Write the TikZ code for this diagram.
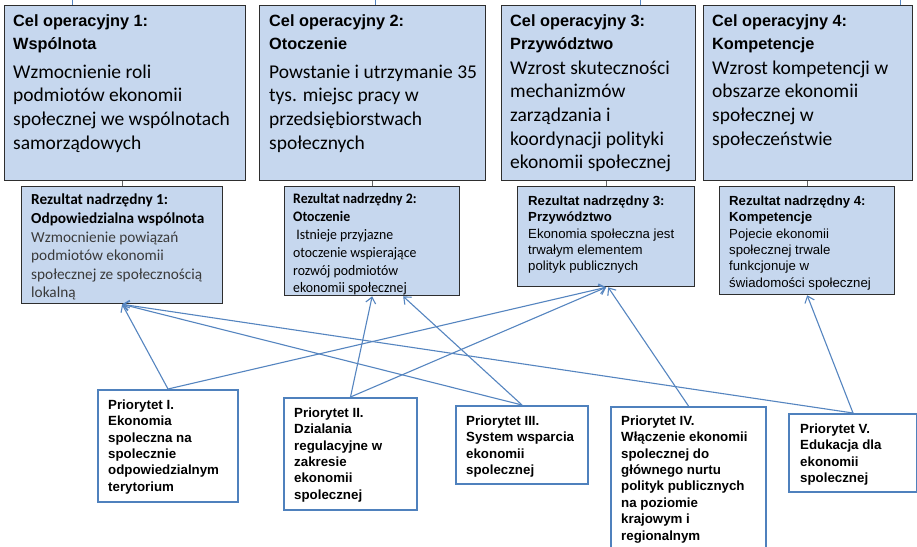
\documentclass[tikz,border=0pt]{standalone}
\usepackage{fontspec}
\setmainfont{Carlito}
\newfontfamily\arialf{Liberation Sans}
\newfontfamily\carlnarrow[FakeStretch=0.95]{Carlito}
\usetikzlibrary{arrows.meta,positioning,calc}
\definecolor{boxfill}{HTML}{C6D7EE}
\definecolor{boxline}{HTML}{2E2E2E}
\definecolor{pline}{HTML}{4F81BD}
\definecolor{arrowc}{HTML}{5585C0}
\definecolor{bodygray}{HTML}{3A3A3A}
\tikzset{
  topbox/.style={draw=boxline, line width=1.3pt, fill=boxfill, rectangle, inner sep=0pt, anchor=north west},
  resbox/.style={draw=boxline, line width=1.3pt, fill=boxfill, rectangle, inner sep=0pt, anchor=north west},
  priobox/.style={draw=pline, line width=2pt, fill=white, rectangle, inner sep=0pt, anchor=north west},
  txtbase/.style={inner sep=0pt, anchor=north west, align=left, execute at begin node=\strut},
  headtxt/.style={txtbase, yshift=16.1pt, font=\arialf\bfseries\fontsize{16.3}{23}\selectfont},
  bodytxt/.style={txtbase, yshift=16.6pt, font=\fontsize{19.5}{23.7}\selectfont},
  rtxtC/.style={txtbase, yshift=13pt, font=\fontsize{15.3}{18.6}\selectfont},
  rtxtN/.style={txtbase, yshift=12.5pt, font=\carlnarrow\fontsize{14.5}{17.8}\selectfont},
  rtxtA/.style={txtbase, yshift=11.5pt, font=\arialf\fontsize{13.2}{16.4}\selectfont},
  ptxt/.style={txtbase, yshift=11.5pt, font=\arialf\bfseries\fontsize{13.3}{16.4}\selectfont},
  vlink/.style={draw=gray!80!black, line width=0.8pt},
  toplink/.style={draw=arrowc, line width=0.8pt},
  arr/.style={draw=arrowc, line width=1.1pt, -{Straight Barb[length=6pt,width=10pt,line width=1.1pt]}},
}
\begin{document}
\begin{tikzpicture}[x=1pt,y=-1pt]
\useasboundingbox (0,0) rectangle (917,546);
\clip (0,0) rectangle (917,546);
\fill[white] (0,0) rectangle (917,546);

% top boxes
\node[topbox, minimum width=241pt, minimum height=175pt] (t1) at (4,5) {};
\node[topbox, minimum width=226pt, minimum height=175pt] (t2) at (259,5) {};
\node[topbox, minimum width=194pt, minimum height=175pt] (t3) at (501,5) {};
\node[topbox, minimum width=209pt, minimum height=175pt] (t4) at (703,5) {};

\node[headtxt] (t1h) at (13,31) {Cel operacyjny 1:\\Wspólnota};
\node[bodytxt] (t1b) at (13,81) {Wzmocnienie roli\\podmiotów ekonomii\\społecznej we wspólnotach\\samorządowych};
\node[headtxt] (t2h) at (269,31) {Cel operacyjny 2:\\Otoczenie};
\node[bodytxt] (t2b) at (269,81) {Powstanie i utrzymanie 35\\tys. miejsc pracy w\\przedsiębiorstwach\\społecznych};
\node[headtxt] (t3h) at (510,31) {Cel operacyjny 3:\\Przywództwo};
\node[bodytxt] (t3b) at (510,77) {Wzrost skuteczności\\mechanizmów\\zarządzania i\\koordynacji polityki\\ekonomii społecznej};
\node[headtxt] (t4h) at (712,31) {Cel operacyjny 4:\\Kompetencje};
\node[bodytxt] (t4b) at (712,77) {Wzrost kompetencji w\\obszarze ekonomii\\społecznej w\\społeczeństwie};

% small connector ends at the top edge
\coordinate (c1) at (72,0);
\coordinate (c2) at (375,0);
\coordinate (c3) at (640,0);
\coordinate (c4) at (900,0);
\draw[toplink] (c1) -- (c1 |- t1.north);
\draw[toplink] (c2) -- (c2 |- t2.north);
\draw[toplink] (c3) -- (c3 |- t3.north);
\draw[toplink] (c4) -- (c4 |- t4.north);

% result boxes
\node[resbox, minimum width=201pt, minimum height=117pt] (r1) at (21,186) {};
\node[resbox, minimum width=175pt, minimum height=109pt] (r2) at (284,186) {};
\node[resbox, minimum width=177pt, minimum height=100pt] (r3) at (517,186) {};
\node[resbox, minimum width=175pt, minimum height=108pt] (r4) at (719,186) {};

\draw[vlink] (r1.north |- t1.south) -- (r1.north);
\draw[vlink] (r2.north |- t2.south) -- (r2.north);
\draw[vlink] (r3.north |- t3.south) -- (r3.north);
\draw[vlink] (r4.north |- t4.south) -- (r4.north);

\node[rtxtC] (r1t) at (31,207) {\textbf{Rezultat nadrzędny 1:}\\\textbf{Odpowiedzialna wspólnota}\\\textcolor{bodygray}{Wzmocnienie powiązań}\\\textcolor{bodygray}{podmiotów ekonomii}\\\textcolor{bodygray}{społecznej ze społecznością}\\\textcolor{bodygray}{lokalną}};
\node[rtxtN] (r2t) at (293,206) {\textbf{Rezultat nadrzędny 2:}\\\textbf{Otoczenie}\\\ Istnieje przyjazne\\otoczenie wspierające\\rozwój podmiotów\\ekonomii społecznej};
\node[rtxtA] (r3t) at (528,207) {\textbf{Rezultat nadrzędny 3:}\\\textbf{Przywództwo}\\Ekonomia społeczna jest\\trwałym elementem\\polityk publicznych};
\node[rtxtA] (r4t) at (729,207) {\textbf{Rezultat nadrzędny 4:}\\\textbf{Kompetencje}\\Pojecie ekonomii\\społecznej trwale\\funkcjonuje w\\świadomości społecznej};

% priority boxes
\node[priobox, minimum width=140pt, minimum height=112pt] (p1) at (97,389) {};
\node[priobox, minimum width=133pt, minimum height=112pt] (p2) at (283,397) {};
\node[priobox, minimum width=132pt, minimum height=78pt] (p3) at (455,405) {};
\node[priobox, minimum width=155pt, minimum height=160pt] (p4) at (610,406) {};
\node[priobox, minimum width=128pt, minimum height=78pt] (p5) at (788,413) {};

\node[ptxt] (p1t) at (108,411) {Priorytet I.\\Ekonomia\\spoleczna na\\spolecznie\\odpowiedzialnym\\terytorium};
\node[ptxt] (p2t) at (294,419) {Priorytet II.\\Dzialania\\regulacyjne w\\zakresie\\ekonomii\\spolecznej};
\node[ptxt] (p3t) at (466,427) {Priorytet III.\\System wsparcia\\ekonomii\\spolecznej};
\node[ptxt] (p4t) at (621,427) {Priorytet IV.\\Włączenie ekonomii\\spolecznej do\\głównego nurtu\\polityk publicznych\\na poziomie\\krajowym i\\regionalnym};
\node[ptxt] (p5t) at (800,435) {Priorytet V.\\Edukacja dla\\ekonomii\\spolecznej};

% arrows
\draw[arr] (p1.north) -- (r1.south);
\draw[arr] (p3.north) -- (r1.south);
\draw[arr] (p5.north) -- (r1.south);
\draw[arr] (p2.north) -- (r2.south);
\draw[arr] (p3.north) -- ([xshift=31pt]r2.south);
\draw[arr] (p1.north) -- (r3.south);
\draw[arr] (p2.north) -- (r3.south);
\draw[arr] (p4.north) -- ([xshift=2pt]r3.south);
\draw[arr] (p5.north) -- (r4.south);
\end{tikzpicture}
\end{document}
